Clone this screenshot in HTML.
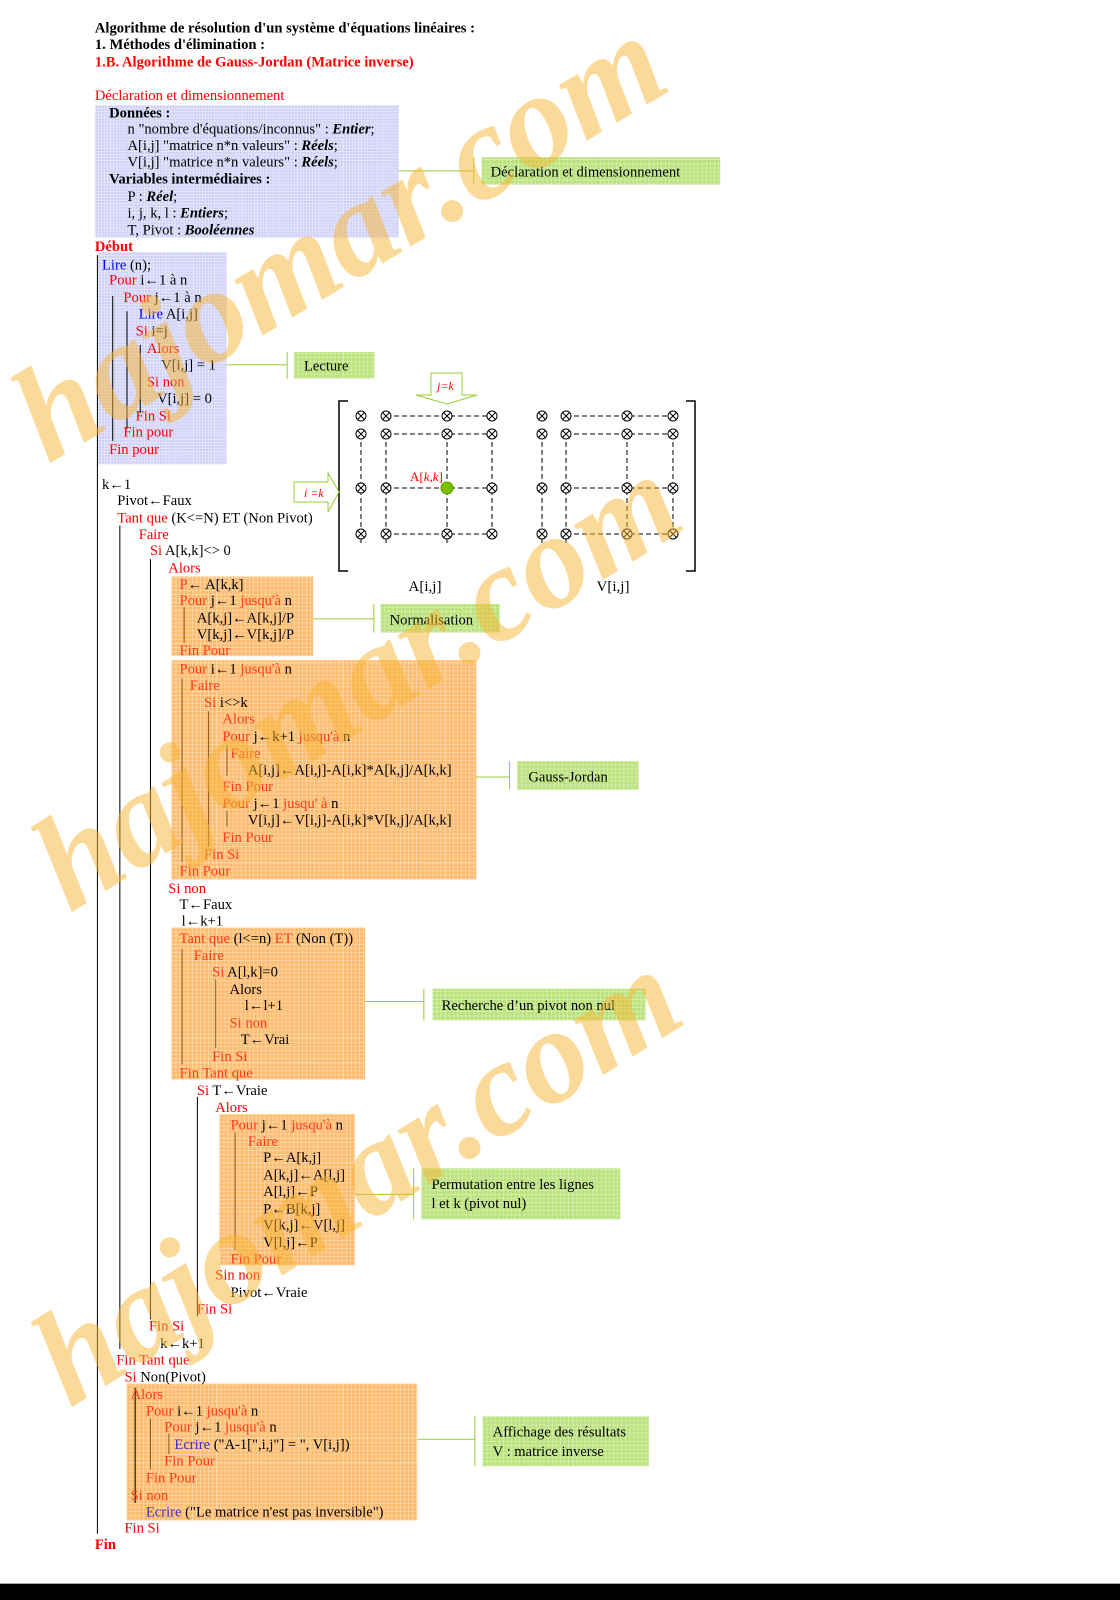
<!DOCTYPE html>
<html><head><meta charset="utf-8"><style>
html,body{margin:0;padding:0;background:#fff;width:1120px;height:1600px;overflow:hidden;position:relative}
#s{position:absolute;left:0;top:0;width:1098px;height:1568px;transform-origin:0 0;transform:scale(1.02004,1.0204);font-family:"Liberation Serif",serif;font-size:14.3px;color:#000}
.l{position:absolute;white-space:nowrap;line-height:17px;height:17px;margin-top:2px}
.r{color:#f00}.o{color:#ff3b1a}.b{color:#00f}.p{color:#3a2fd0}.B{font-weight:bold}
.box{position:absolute}
.blue{background-color:#cfd0f7;background-image:repeating-linear-gradient(0deg,rgba(255,255,255,.35) 0 1px,transparent 1px 3px),repeating-linear-gradient(90deg,rgba(255,255,255,.35) 0 1px,transparent 1px 3px)}
.or{background-color:#fdbb6e;background-image:repeating-linear-gradient(0deg,rgba(255,255,255,.3) 0 1px,transparent 1px 4px),repeating-linear-gradient(90deg,rgba(255,255,255,.3) 0 1px,transparent 1px 4px)}
.gr{background-color:#b9e27a;background-image:repeating-linear-gradient(0deg,rgba(255,255,255,.3) 0 1px,transparent 1px 4px),repeating-linear-gradient(90deg,rgba(255,255,255,.3) 0 1px,transparent 1px 4px)}
.v{position:absolute;width:1px;background:#000}
.hg{position:absolute;height:1px;background:#9acd32}
.vg{position:absolute;width:1px;background:#9acd32}
.wm{position:absolute;font:italic bold 135px "Liberation Serif",serif;color:rgba(248,180,50,.5);white-space:nowrap;transform-origin:0 0;pointer-events:none}
</style></head><body>
<div id="s">
<div class="box blue" style="left:93px;top:103px;width:298px;height:130px"></div>
<div class="box blue" style="left:96px;top:247px;width:126px;height:208px"></div>
<div class="box or" style="left:168px;top:565px;width:139px;height:78px"></div>
<div class="box or" style="left:168px;top:647px;width:299px;height:215px"></div>
<div class="box or" style="left:168px;top:909px;width:190px;height:149px"></div>
<div class="box or" style="left:215px;top:1092px;width:133px;height:148px"></div>
<div class="box or" style="left:124px;top:1356px;width:285px;height:134px"></div>
<div class="box gr" style="left:472px;top:154px;width:234px;height:27px"></div>
<div class="hg" style="left:391px;top:167px;width:73px"></div><div class="vg" style="left:464px;top:154px;height:27px"></div>
<div class="l" style="left:481px;top:159px">Déclaration et dimensionnement</div>
<div class="box gr" style="left:288px;top:345px;width:79px;height:26px"></div>
<div class="hg" style="left:222px;top:357px;width:59px"></div><div class="vg" style="left:281px;top:345px;height:26px"></div>
<div class="l" style="left:298px;top:349px">Lecture</div>
<div class="box gr" style="left:373px;top:592px;width:117px;height:28px"></div>
<div class="hg" style="left:307px;top:606px;width:59px"></div><div class="vg" style="left:366px;top:592px;height:28px"></div>
<div class="l" style="left:382px;top:598px">Normalisation</div>
<div class="box gr" style="left:507px;top:746px;width:119px;height:28px"></div>
<div class="hg" style="left:467px;top:761px;width:32px"></div><div class="vg" style="left:499px;top:746px;height:28px"></div>
<div class="l" style="left:518px;top:752px">Gauss-Jordan</div>
<div class="box gr" style="left:424px;top:969px;width:209px;height:31px"></div>
<div class="hg" style="left:358px;top:981px;width:57px"></div><div class="vg" style="left:415px;top:969px;height:31px"></div>
<div class="l" style="left:433px;top:976px">Recherche d’un pivot non nul</div>
<div class="box gr" style="left:413px;top:1145px;width:195px;height:50px"></div>
<div class="hg" style="left:348px;top:1170px;width:57px"></div><div class="vg" style="left:405px;top:1145px;height:50px"></div>
<div class="l" style="left:423px;top:1151px">Permutation entre les lignes</div>
<div class="l" style="left:423px;top:1170px">l et k (pivot nul)</div>
<div class="box gr" style="left:473px;top:1388px;width:163px;height:49px"></div>
<div class="hg" style="left:409px;top:1410px;width:56px"></div><div class="vg" style="left:465px;top:1388px;height:49px"></div>
<div class="l" style="left:483px;top:1394px">Affichage des résultats</div>
<div class="l" style="left:483px;top:1413px">V : matrice inverse</div>
<div class="v" style="left:95px;top:250px;height:1253px"></div>
<div class="v" style="left:110px;top:290px;height:142px"></div>
<div class="v" style="left:124px;top:305px;height:115px"></div>
<div class="v" style="left:137px;top:338px;height:67px"></div>
<div class="v" style="left:117px;top:515px;height:807px"></div>
<div class="v" style="left:147px;top:548px;height:745px"></div>
<div class="v" style="left:193px;top:1075px;height:215px"></div>
<div class="v" style="left:180px;top:595px;height:35px;background:#8a5a20"></div>
<div class="v" style="left:178px;top:665px;height:180px;background:#8a5a20"></div>
<div class="v" style="left:204px;top:697px;height:133px;background:#8a5a20"></div>
<div class="v" style="left:222px;top:730px;height:30px;background:#8a5a20"></div>
<div class="v" style="left:222px;top:795px;height:15px;background:#8a5a20"></div>
<div class="v" style="left:178px;top:930px;height:113px;background:#8a5a20"></div>
<div class="v" style="left:211px;top:960px;height:67px;background:#8a5a20"></div>
<div class="v" style="left:230px;top:1110px;height:115px;background:#8a5a20"></div>
<div class="v" style="left:132px;top:1360px;height:113px"></div>
<div class="v" style="left:147px;top:1390px;height:50px;background:#8a5a20"></div>
<div class="v" style="left:165px;top:1405px;height:20px;background:#8a5a20"></div>
<div class="l B" style="left:93px;top:18px">Algorithme de résolution d'un système d'équations linéaires :</div>
<div class="l B" style="left:93px;top:34px">1. Méthodes d'élimination :</div>
<div class="l B r" style="left:93px;top:51px">1.B. Algorithme de Gauss-Jordan (Matrice inverse)</div>
<div class="l r" style="left:93px;top:84px">Déclaration et dimensionnement</div>
<div class="l B" style="left:107px;top:101px">Données :</div>
<div class="l" style="left:125px;top:117px">n "nombre d'équations/inconnus" : <b><i>Entier</i></b>;</div>
<div class="l" style="left:125px;top:133px">A[i,j] "matrice n*n valeurs" : <b><i>Réels</i></b>;</div>
<div class="l" style="left:125px;top:149px">V[i,j] "matrice n*n valeurs" : <b><i>Réels</i></b>;</div>
<div class="l B" style="left:107px;top:166px">Variables intermédiaires :</div>
<div class="l" style="left:125px;top:183px">P : <b><i>Réel</i></b>;</div>
<div class="l" style="left:125px;top:199px">i, j, k, l : <b><i>Entiers</i></b>;</div>
<div class="l" style="left:125px;top:216px">T, Pivot : <b><i>Booléennes</i></b></div>
<div class="l B r" style="left:93px;top:232px">Début</div>
<div class="l" style="left:100px;top:250px"><span class="b">Lire</span> (n);</div>
<div class="l" style="left:107px;top:265px"><span class="r">Pour</span> i←1 à n</div>
<div class="l" style="left:121px;top:282px"><span class="r">Pour</span> j←1 à n</div>
<div class="l" style="left:136px;top:298px"><span class="b">Lire</span> A[i,j]</div>
<div class="l" style="left:133px;top:315px"><span class="r">Si</span> i=j</div>
<div class="l r" style="left:144px;top:332px">Alors</div>
<div class="l" style="left:158px;top:348px">V[i,j] = 1</div>
<div class="l r" style="left:144px;top:365px">Si non</div>
<div class="l" style="left:154px;top:381px">V[i,j] = 0</div>
<div class="l r" style="left:133px;top:398px">Fin Si</div>
<div class="l r" style="left:121px;top:414px">Fin pour</div>
<div class="l r" style="left:107px;top:431px">Fin pour</div>
<div class="l" style="left:100px;top:465px">k←1</div>
<div class="l" style="left:115px;top:481px">Pivot←Faux</div>
<div class="l" style="left:115px;top:498px"><span class="r">Tant que</span> (K&lt;=N) ET (Non Pivot)</div>
<div class="l r" style="left:136px;top:514px">Faire</div>
<div class="l" style="left:147px;top:530px"><span class="r">Si</span> A[k,k]&lt;&gt; 0</div>
<div class="l r" style="left:165px;top:547px">Alors</div>
<div class="l" style="left:176px;top:563px"><span class="o">P</span>← A[k,k]</div>
<div class="l" style="left:176px;top:579px"><span class="o">Pour</span> j←1 <span class="o">jusqu'à</span> n</div>
<div class="l" style="left:193px;top:596px">A[k,j]←A[k,j]/P</div>
<div class="l" style="left:193px;top:612px">V[k,j]←V[k,j]/P</div>
<div class="l o" style="left:176px;top:628px">Fin Pour</div>
<div class="l" style="left:176px;top:646px"><span class="o">Pour</span> i←1 <span class="o">jusqu'à</span> n</div>
<div class="l o" style="left:186px;top:662px">Faire</div>
<div class="l" style="left:200px;top:679px"><span class="o">Si</span> i&lt;&gt;k</div>
<div class="l o" style="left:218px;top:695px">Alors</div>
<div class="l" style="left:218px;top:712px"><span class="o">Pour</span> j←k+1 <span class="o">jusqu'à</span> n</div>
<div class="l o" style="left:226px;top:729px">Faire</div>
<div class="l" style="left:243px;top:745px">A[i,j]←A[i,j]-A[i,k]*A[k,j]/A[k,k]</div>
<div class="l o" style="left:218px;top:761px">Fin Pour</div>
<div class="l" style="left:218px;top:778px"><span class="o">Pour</span> j←1 <span class="o">jusqu' à</span> n</div>
<div class="l" style="left:243px;top:794px">V[i,j]←V[i,j]-A[i,k]*V[k,j]/A[k,k]</div>
<div class="l o" style="left:218px;top:811px">Fin Pour</div>
<div class="l o" style="left:200px;top:828px">Fin Si</div>
<div class="l o" style="left:176px;top:844px">Fin Pour</div>
<div class="l r" style="left:165px;top:861px">Si non</div>
<div class="l" style="left:176px;top:877px">T←Faux</div>
<div class="l" style="left:178px;top:893px">l←k+1</div>
<div class="l" style="left:176px;top:910px"><span class="o">Tant que</span> (l&lt;=n) <span class="o">ET</span> (Non (T))</div>
<div class="l o" style="left:190px;top:927px">Faire</div>
<div class="l" style="left:208px;top:943px"><span class="o">Si</span> A[l,k]=0</div>
<div class="l" style="left:225px;top:960px">Alors</div>
<div class="l" style="left:240px;top:976px">l←l+1</div>
<div class="l o" style="left:225px;top:993px">Si non</div>
<div class="l" style="left:236px;top:1009px">T←Vrai</div>
<div class="l o" style="left:208px;top:1026px">Fin Si</div>
<div class="l o" style="left:176px;top:1042px">Fin Tant que</div>
<div class="l" style="left:193px;top:1059px"><span class="r">Si</span> T←Vraie</div>
<div class="l r" style="left:211px;top:1076px">Alors</div>
<div class="l" style="left:226px;top:1093px"><span class="o">Pour</span> j←1 <span class="o">jusqu'à</span> n</div>
<div class="l o" style="left:243px;top:1109px">Faire</div>
<div class="l" style="left:258px;top:1125px">P←A[k,j]</div>
<div class="l" style="left:258px;top:1142px">A[k,j]←A[l,j]</div>
<div class="l" style="left:258px;top:1158px">A[l,j]←P</div>
<div class="l" style="left:258px;top:1175px">P←B[k,j]</div>
<div class="l" style="left:258px;top:1191px">V[k,j]←V[l,j]</div>
<div class="l" style="left:258px;top:1208px">V[l,j]←P</div>
<div class="l o" style="left:226px;top:1224px">Fin Pour</div>
<div class="l r" style="left:211px;top:1240px">Sin non</div>
<div class="l" style="left:226px;top:1257px">Pivot←Vraie</div>
<div class="l r" style="left:193px;top:1273px">Fin Si</div>
<div class="l r" style="left:146px;top:1290px">Fin Si</div>
<div class="l" style="left:157px;top:1307px">k←k+1</div>
<div class="l r" style="left:114px;top:1323px">Fin Tant que</div>
<div class="l" style="left:122px;top:1340px"><span class="r">Si</span> Non(Pivot)</div>
<div class="l o" style="left:128px;top:1357px">Alors</div>
<div class="l" style="left:143px;top:1373px"><span class="o">Pour</span> i←1 <span class="o">jusqu'à</span> n</div>
<div class="l" style="left:161px;top:1389px"><span class="o">Pour</span> j←1 <span class="o">jusqu'à</span> n</div>
<div class="l" style="left:171px;top:1406px"><span class="p">Ecrire</span> ("A-1[",i,j"] = ", V[i,j])</div>
<div class="l o" style="left:161px;top:1422px">Fin Pour</div>
<div class="l o" style="left:143px;top:1439px">Fin Pour</div>
<div class="l o" style="left:128px;top:1456px">Si non</div>
<div class="l" style="left:143px;top:1472px"><span class="p">Ecrire</span> ("Le matrice n'est pas inversible")</div>
<div class="l r" style="left:122px;top:1488px">Fin Si</div>
<div class="l B r" style="left:93px;top:1504px">Fin</div>
<div style="position:absolute;left:0;top:1552px;width:1098px;height:16px;background:#000"></div>
</div>
<svg style="position:absolute;left:0;top:0" width="1120" height="1600">
<defs><g id="x"><circle r="5" fill="#fff" stroke="#000"/><path d="M-3.5-3.5L3.5 3.5M3.5-3.5L-3.5 3.5" stroke="#000"/></g></defs>
<g fill="none" stroke="#000" stroke-width="1.5">
<path d="M348 401H339V571H348"/><path d="M686 401H695V571H686"/></g>
<g stroke="#000" stroke-dasharray="5,3" fill="none">
<path d="M386 416H492M386 434H492M386 488H492M386 534H492"/>
<path d="M361 434V545M386 434V545M447 434V545M492 434V534"/>
<path d="M566 416H673M566 434H673M566 488H673M566 534H673"/>
<path d="M542 434V545M566 434V545M627 434V534M673 434V534"/>
</g>
<g>
<use href="#x" x="361" y="416"/><use href="#x" x="386" y="416"/><use href="#x" x="447" y="416"/><use href="#x" x="492" y="416"/>
<use href="#x" x="361" y="434"/><use href="#x" x="386" y="434"/><use href="#x" x="447" y="434"/><use href="#x" x="492" y="434"/>
<use href="#x" x="361" y="488"/><use href="#x" x="386" y="488"/><use href="#x" x="492" y="488"/>
<use href="#x" x="361" y="534"/><use href="#x" x="386" y="534"/><use href="#x" x="447" y="534"/><use href="#x" x="492" y="534"/>
<use href="#x" x="542" y="416"/><use href="#x" x="566" y="416"/><use href="#x" x="627" y="416"/><use href="#x" x="673" y="416"/>
<use href="#x" x="542" y="434"/><use href="#x" x="566" y="434"/><use href="#x" x="627" y="434"/><use href="#x" x="673" y="434"/>
<use href="#x" x="542" y="488"/><use href="#x" x="566" y="488"/><use href="#x" x="627" y="488"/><use href="#x" x="673" y="488"/>
<use href="#x" x="542" y="534"/><use href="#x" x="566" y="534"/><use href="#x" x="627" y="534"/><use href="#x" x="673" y="534"/>
</g>
<circle cx="447" cy="488" r="6" fill="#7cbf00" stroke="#5a9a00"/>
<text x="410" y="481" font-family="Liberation Serif" font-size="13" fill="#f00">A[<tspan font-style="italic">k,k</tspan>]</text>
<path d="M431 373H462V395H477L447 404L416 395H431Z" fill="#fff" stroke="#9acd32"/>
<text x="437" y="390" font-family="Liberation Serif" font-size="12" font-style="italic" fill="#f00">j=k</text>
<path d="M294 482H328V473L339 492L328 512V502H294Z" fill="#fff" stroke="#9acd32"/>
<text x="304" y="497" font-family="Liberation Serif" font-size="12" font-style="italic" fill="#f00">i =k</text>
<text x="425" y="591" text-anchor="middle" font-family="Liberation Serif" font-size="15">A[i,j]</text>
<text x="613" y="591" text-anchor="middle" font-family="Liberation Serif" font-size="15">V[i,j]</text>
</svg>
<div class="wm" style="left:-15px;top:360px;transform:rotate(-31deg)">hajomar.com</div>
<div class="wm" style="left:5px;top:810px;transform:rotate(-32deg)">hajomar.com</div>
<div class="wm" style="left:5px;top:1305px;transform:rotate(-32deg)">hajomar.com</div>
</body></html>
